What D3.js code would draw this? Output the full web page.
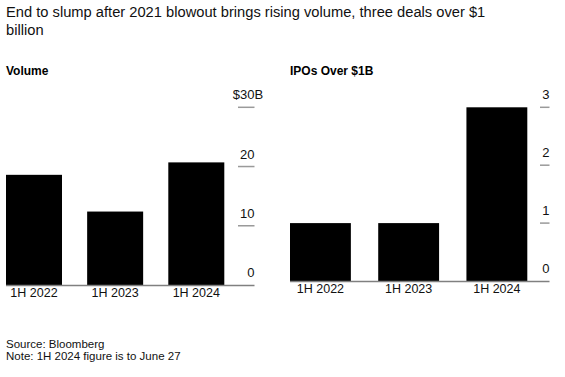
<!DOCTYPE html>
<html>
<head>
<meta charset="utf-8">
<script src="https://cdn.jsdelivr.net/npm/d3@7"></script>
<style>
  body { margin: 0; background: #fff; }
  svg { display: block; font-family: "Liberation Sans", Arial, Helvetica, sans-serif; }
</style>
</head>
<body>
<svg id="chart" width="565" height="377"></svg>
<script>
const categories = ["1H 2022", "1H 2023", "1H 2024"];
const volumeValues = [18.6, 12.4, 20.7];
const ipoValues = [1, 1, 3];
const volumeTicks = [0, 10, 20, 30];
const ipoTicks = [0, 1, 2, 3];
const titleLines = ["End to slump after 2021 blowout brings rising volume, three deals over $1", "billion"];
const footerLines = ["Source: Bloomberg", "Note: 1H 2024 figure is to June 27"];

const svg = d3.select("#chart");

svg.selectAll("text.title").data(titleLines).join("text")
  .attr("class", "title")
  .attr("x", 6).attr("y", (d, i) => 17 + i * 17.5)
  .attr("font-size", 14.7).attr("fill", "#111").text(d => d);

svg.selectAll("text.footer").data(footerLines).join("text")
  .attr("class", "footer")
  .attr("x", 6).attr("y", (d, i) => 348 + i * 11.5)
  .attr("font-size", 11.5).attr("fill", "#111").text(d => d);

function panel(cfg) {
  const g = svg.append("g");
  g.append("text").attr("x", cfg.titleX).attr("y", 75)
    .attr("font-size", 12).attr("font-weight", "bold").attr("fill", "#000").text(cfg.title);

  const x = d3.scaleBand().domain(categories).range(cfg.xRange).paddingInner(0.31).paddingOuter(0);
  const y = d3.scaleLinear().domain([0, cfg.max]).range([cfg.base, 107.3]);

  g.selectAll("rect").data(cfg.values).join("rect")
    .attr("x", (d, i) => x(categories[i]))
    .attr("width", x.bandwidth())
    .attr("y", d => y(d))
    .attr("height", d => y(0) - y(d))
    .attr("fill", "#000");

  g.append("line").attr("x1", cfg.xRange[0]).attr("x2", cfg.axisEnd)
    .attr("y1", y(0) + 0.5).attr("y2", y(0) + 0.5)
    .attr("stroke", "#808080").attr("stroke-width", 1.5);

  g.selectAll("line.tick").data(cfg.ticks.filter(t => t !== 0)).join("line")
    .attr("class", "tick")
    .attr("x1", cfg.tickStart).attr("x2", cfg.axisEnd)
    .attr("y1", d => y(d)).attr("y2", d => y(d))
    .attr("stroke", "#9a9a9a").attr("stroke-width", 1.5);

  const labels = g.selectAll("text.tl").data(cfg.ticks).join("text")
    .attr("class", "tl")
    .attr("x", cfg.axisEnd).attr("y", d => y(d) - 8)
    .attr("text-anchor", "end").attr("font-size", 13).attr("fill", "#111");
  labels.each(function(d) {
    const t = d3.select(this);
    if (cfg.prefix && d === cfg.max) {
      t.append("tspan").text(cfg.prefix);
      t.append("tspan").text(d);
      t.append("tspan").text(cfg.suffix);
      const suffixW = t.select("tspan:last-child").node().getComputedTextLength();
      t.attr("x", cfg.axisEnd + suffixW);
    } else {
      t.text(d);
    }
  });

  g.selectAll("text.cat").data(categories).join("text")
    .attr("class", "cat")
    .attr("x", d => x(d) + x.bandwidth() / 2).attr("y", y(0) + 12)
    .attr("text-anchor", "middle").attr("font-size", 12.5).attr("fill", "#111").text(d => d);
}

panel({
  title: "Volume", titleX: 6, values: volumeValues, ticks: volumeTicks, max: 30,
  xRange: [6, 224.3], axisEnd: 254.5, tickStart: 238, base: 285,
  prefix: "$", suffix: "B"
});
panel({
  title: "IPOs Over $1B", titleX: 290, values: ipoValues, ticks: ipoTicks, max: 3,
  xRange: [290, 527.3], axisEnd: 549.5, tickStart: 540, base: 281
});
</script>
</body>
</html>
